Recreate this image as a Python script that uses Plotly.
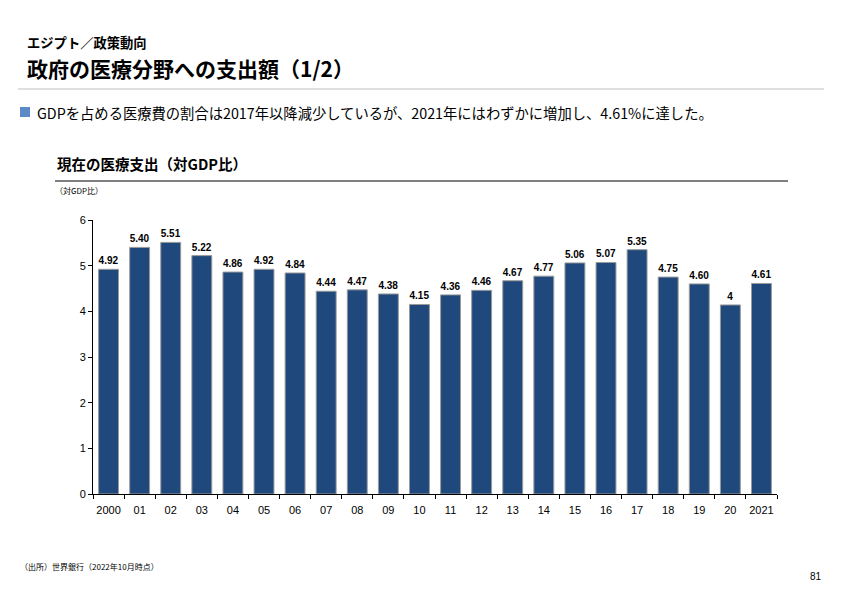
import plotly.graph_objects as go

# 現在の医療支出（対GDP比）
years = ["2000", "01", "02", "03", "04", "05", "06", "07", "08", "09", "10",
         "11", "12", "13", "14", "15", "16", "17", "18", "19", "20", "2021"]
values = [4.92, 5.40, 5.51, 5.22, 4.86, 4.92, 4.84, 4.44, 4.47, 4.38, 4.15,
          4.36, 4.46, 4.67, 4.77, 5.06, 5.07, 5.35, 4.75, 4.60, 4.14, 4.61]
value_labels = ["4.92", "5.40", "5.51", "5.22", "4.86", "4.92", "4.84", "4.44", "4.47", "4.38", "4.15",
                "4.36", "4.46", "4.67", "4.77", "5.06", "5.07", "5.35", "4.75", "4.60", "4", "4.61"]
y_ticks = [0, 1, 2, 3, 4, 5, 6]

JP = "Noto Sans CJK JP"
NUM = "Liberation Sans, Arial"
BAR = "#1F487C"

# the page body has an 8px margin, so the figure is drawn 8px in from the window edge
OFF = 8
W, H = 842 - 2 * OFF, 595 - 2 * OFF

# plot area in window pixels
L, R, T, B = 93, 777, 220, 494

fig = go.Figure(go.Bar(
    x=years, y=values, width=0.64,
    text=value_labels, textposition="outside", cliponaxis=False,
    textfont=dict(family=NUM, size=10, color="#000000", weight="bold"),
    marker=dict(color=BAR, line=dict(color="#9A9A9A", width=1)),
))

fig.update_layout(
    width=W, height=H,
    margin=dict(l=L - OFF, r=842 - OFF - R, t=T - OFF, b=595 - OFF - B),
    paper_bgcolor="white", plot_bgcolor="white",
    showlegend=False, uniformtext=dict(minsize=10, mode="show"),
    font=dict(family=NUM, color="#000000"),
    xaxis=dict(type="category", showline=True, linecolor="#000000", linewidth=1, tickangle=0,
               ticks="outside", tickson="boundaries", ticklen=4, tickcolor="#000000",
               ticklabelstandoff=6,
               tickfont=dict(family=NUM, size=11), showgrid=False),
    yaxis=dict(range=[0, 6], tickvals=y_ticks, showline=True, linecolor="#000000",
               linewidth=1, ticks="outside", ticklen=4, tickcolor="#000000",
               tickfont=dict(family=NUM, size=11), showgrid=False, zeroline=False),
)


def to_px(x):
    return (x - L) / (R - L)


def to_py(y):
    return (B - y) / (B - T)


shapes = [
    # header separator
    dict(type="line", x0=18, x1=824, y0=89, y1=89, line=dict(color="#BFBFBF", width=1)),
    # bullet square
    dict(type="rect", x0=20, x1=30, y0=107, y1=117, fillcolor="#5B8AC6", line=dict(width=0)),
    # chart title underline
    dict(type="line", x0=55, x1=788, y0=181, y1=181, line=dict(color="#7F7F7F", width=2)),
]
for s in shapes:
    s.update(xref="paper", yref="paper",
             x0=to_px(s["x0"]), x1=to_px(s["x1"]), y0=to_py(s["y0"]), y1=to_py(s["y1"]))
fig.update_layout(shapes=shapes)

texts = [
    (25, 42, "エジプト／政策動向", 13.3, True),
    (25, 68, "政府の医療分野への支出額（1/2）", 21, True),
    (35, 112, "GDPを占める医療費の割合は2017年以降減少しているが、2021年にはわずかに増加し、4.61%に達した。", 14.3, False),
    (55, 163, "現在の医療支出（対GDP比）", 14.5, True),
    (53, 190, "（対GDP比）", 8, False),
    (18, 566, "（出所）世界銀行（2022年10月時点）", 8, False),
]
for x, y, t, size, bold in texts:
    fig.add_annotation(x=to_px(x), y=to_py(y), xref="paper", yref="paper", text=t,
                       showarrow=False, xanchor="left", yanchor="middle",
                       font=dict(family=JP, size=size, color="#000000",
                                 weight="bold" if bold else "normal"))

fig.add_annotation(x=to_px(824), y=to_py(576), xref="paper", yref="paper", text="81",
                   showarrow=False, xanchor="right", yanchor="middle",
                   font=dict(family=NUM, size=10, color="#000000"))

fig.write_html("out.html")
